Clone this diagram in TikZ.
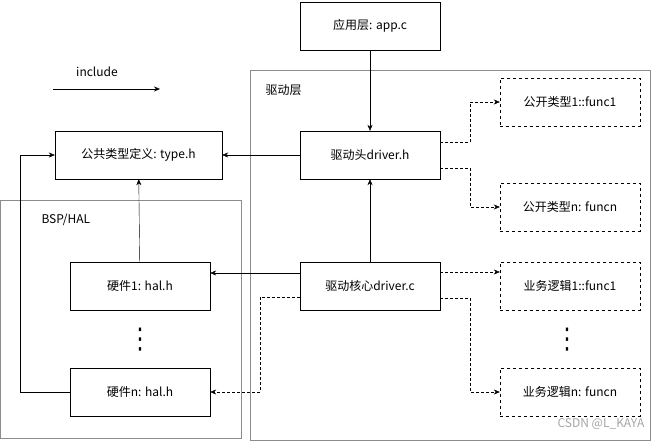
\documentclass[tikz,border=0pt]{standalone}
\usepackage{fontspec}
\setmainfont{Noto Sans CJK SC}
\newfontfamily\dejavu{DejaVu Sans}
\usetikzlibrary{arrows.meta}
\begin{document}
\begin{tikzpicture}[x=1pt,y=-1pt,font=\fontsize{12}{14}\selectfont,
  box/.style={draw,minimum width=140pt,minimum height=48pt,inner sep=0pt},
  dbox/.style={box,dashed},
  grp/.style={draw=black!45},
  dots/.style={inner sep=0pt,font=\dejavu\fontsize{22}{22}\selectfont,yscale=1.3},
  arr/.style={-{Stealth[length=6pt,width=5pt]}},
  darr/.style={arr,densely dashed}]
\useasboundingbox (0,0) rectangle (661,441);
\fill[white] (0,0) rectangle (661,441);
\draw[grp] (250,70) rectangle (650,440);
\draw[grp] (0,200) rectangle (241,438);
\node[anchor=west] (lq) at (262,90) {驱动层};
\node[anchor=west] (lb) at (38,220) {BSP/HAL};
\node (inc) at (97,72) {include};
\coordinate (ia) at (53,89); \coordinate (ib) at (160,89);
\draw[arr] (ia) -- (ib);
\node[box] (app) at (370,26) {应用层: app.c};
\node[box,minimum width=167pt] (type) at (138.5,155) {公共类型定义: type.h};
\node[box] (dh) at (370,155) {驱动头driver.h};
\node[box] (dc) at (370,286) {驱动核心driver.c};
\node[box] (h1) at (140,286) {硬件1: hal.h};
\node[box] (hn) at (140,392) {硬件n: hal.h};
\node[dbox] (p1) at (570,102) {公开类型1::func1};
\node[dbox] (pn) at (570,207) {公开类型n: funcn};
\node[dbox] (b1) at (570,286) {业务逻辑1::func1};
\node[dbox] (bn) at (570,392) {业务逻辑n: funcn};
\node[dots] (v1) at (140,340) {⋮};
\node[dots] (v2) at (567,340) {⋮};
\draw[arr] (app) -- (dh);
\draw[arr] (dh) -- (type);
\draw[arr] (dc) -- (dh);
\draw[arr] (dc.west |- 0,273) -- (h1.east |- 0,273);
\draw[arr] (h1) -- (type);
\draw[arr] (hn.west) -- (20,392) -- (20,155) -- (type.west);
\draw[darr] (dh.east |- 0,142) -- (470,142) -- (470,102) -- (p1.west);
\draw[darr] (dh.east |- 0,168) -- (470,168) -- (470,207) -- (pn.west);
\draw[darr] (dc.east |- 0,272) -- (b1.west |- 0,272);
\draw[darr] (dc.east |- 0,298) -- (470,298) -- (470,392) -- (bn.west);
\draw[darr] (dc.west |- 0,297) -- (260,297) -- (260,392) -- (hn.east);
\node[text=black!35,anchor=east] (wm) at (648,424) {CSDN @L\_KAYA};
\end{tikzpicture}
\end{document}
